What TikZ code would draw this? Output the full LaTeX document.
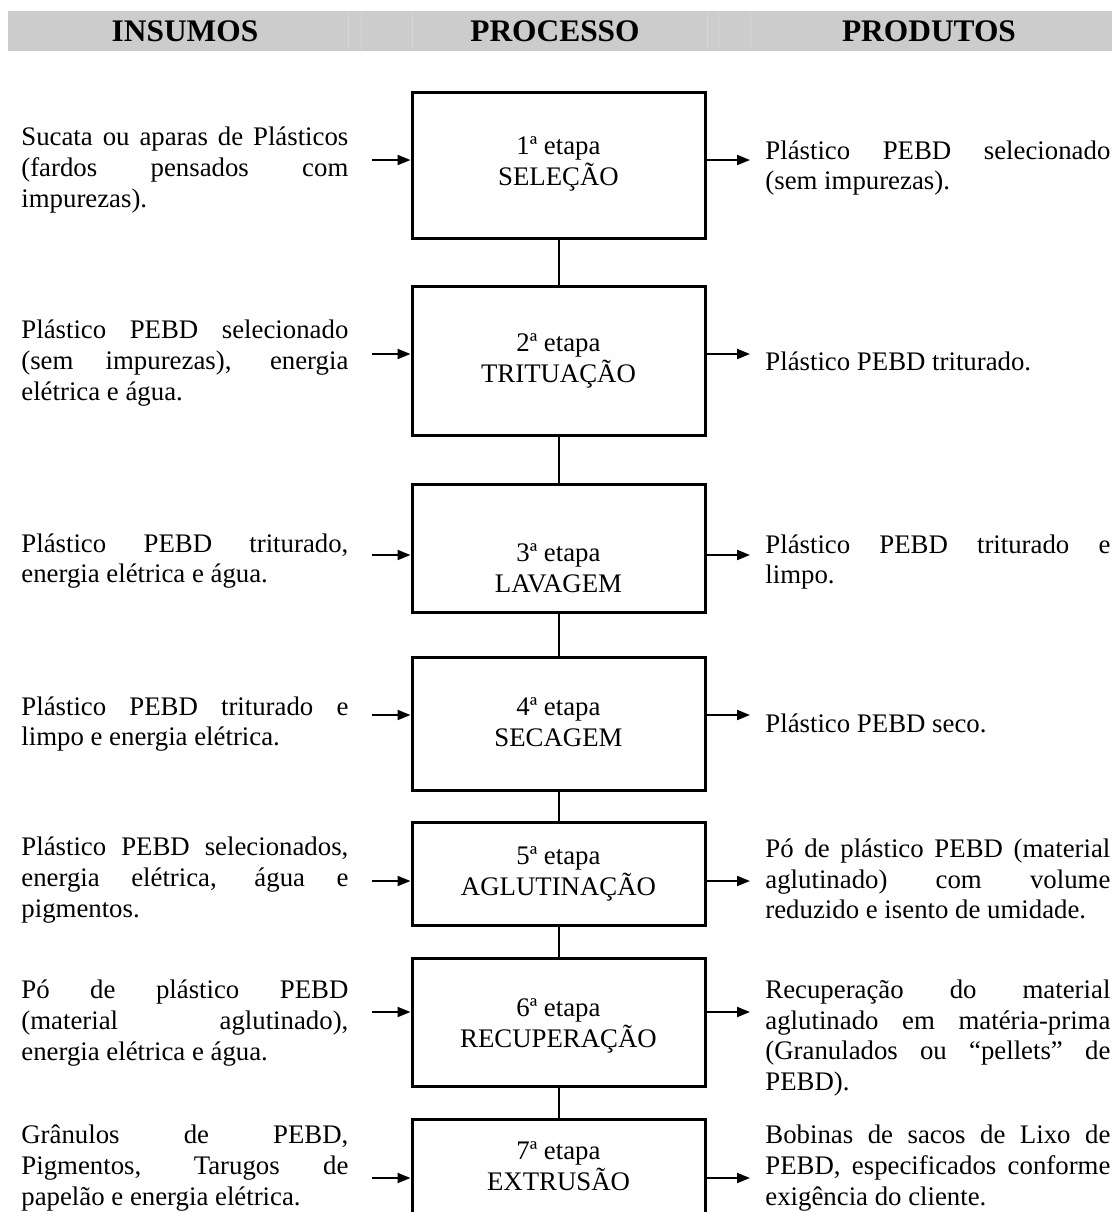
\documentclass[tikz,border=0pt]{standalone}
\usepackage{fontspec}
\setmainfont{Liberation Serif}
\usetikzlibrary{arrows.meta}
\hyphenpenalty=10000 \exhyphenpenalty=10000 \tolerance=10000 \hbadness=10000 \parindent=0pt
\definecolor{hdrgray}{RGB}{204,204,204}
\definecolor{hdrline}{RGB}{213,213,213}
\tikzset{
  bodyfont/.style={font=\fontsize{13.4pt}{15.3pt}\selectfont},
  hdrtext/.style={font=\fontsize{15.7pt}{18pt}\selectfont\bfseries, inner sep=0pt},
  intext/.style={bodyfont, text width=163.5pt, align=justify, inner sep=0pt, anchor=west},
  outtext/.style={bodyfont, text width=172.5pt, align=justify, inner sep=0pt, anchor=west},
  stagebox/.style={draw, line width=1.5pt, minimum width=146.5pt, inner sep=0pt},
  stagetext/.style={bodyfont, align=center, inner sep=0pt},
  link/.style={line width=1pt},
  flow/.style={line width=1pt, -{Triangle[length=6.5pt,width=5pt]}},
}
\begin{document}
\begin{tikzpicture}[x=0.5pt, y=-0.5pt]
\useasboundingbox (0,0) rectangle (1114,1212);
\clip (0,0) rectangle (1114,1212);
% header
\fill[hdrgray] (8,11) rectangle (1112,51);
\foreach \xx in {348,361,412,707,718,750}{\draw[hdrline, line width=0.3pt] (\xx,11) -- (\xx,51);}
\node[hdrtext] (h1) at (185,31) {INSUMOS};
\node[hdrtext] (h2) at (555,31) {PROCESSO};
\node[hdrtext] (h3) at (929,31) {PRODUTOS};
% stage boxes
\node[stagebox, minimum height=73pt]   (b1) at (558.5,165)   {};
\node[stagebox, minimum height=74.5pt] (b2) at (558.5,360.5) {};
\node[stagebox, minimum height=64pt]   (b3) at (558.5,548)   {};
\node[stagebox, minimum height=66.5pt] (b4) at (558.5,723.5) {};
\node[stagebox, minimum height=51.5pt] (b5) at (558.5,873.5) {};
\node[stagebox, minimum height=64pt]   (b6) at (558.5,1022)  {};
\node[stagebox, minimum height=51.5pt] (b7) at (558.5,1170.5){};
\node[stagetext] (t1) at (558.5,164)  {1ª etapa\\SELEÇÃO};
\node[stagetext] (t2) at (558.5,361)  {2ª etapa\\TRITUAÇÃO};
\node[stagetext] (t3) at (558.5,568)  {3ª etapa\\LAVAGEM};
\node[stagetext] (t4) at (558.5,722)  {4ª etapa\\SECAGEM};
\node[stagetext] (t5) at (558.5,874)  {5ª etapa\\AGLUTINAÇÃO};
\node[stagetext] (t6) at (558.5,1026) {6ª etapa\\RECUPERAÇÃO};
\node[stagetext] (t7) at (558.5,1166) {7ª etapa\\EXTRUSÃO};
\draw[link] (b1.south) -- (b2.north);
\draw[link] (b2.south) -- (b3.north);
\draw[link] (b3.south) -- (b4.north);
\draw[link] (b4.south) -- (b5.north);
\draw[link] (b5.south) -- (b6.north);
\draw[link] (b6.south) -- (b7.north);
% inputs
\node[intext] (l1) at (21,170) {Sucata ou aparas de Plásticos\linebreak (fardos pensados com\linebreak impurezas).};
\node[intext] (l2) at (21,363) {Plástico PEBD selecionado\linebreak (sem impurezas), energia\linebreak elétrica e água.};
\node[intext] (l3) at (21,561) {Plástico PEBD triturado,\linebreak energia elétrica e água.};
\node[intext] (l4) at (21,724) {Plástico PEBD triturado e\linebreak limpo e energia elétrica.};
\node[intext] (l5) at (21,880) {Plástico PEBD selecionados,\linebreak energia elétrica, água e\linebreak pigmentos.};
\node[intext] (l6) at (21,1023) {Pó de plástico PEBD\linebreak (material aglutinado),\linebreak energia elétrica e água.};
\node[intext] (l7) at (21,1168) {Grânulos de PEBD,\linebreak Pigmentos, Tarugos de\linebreak papelão e energia elétrica.};
% outputs
\node[outtext] (r1) at (765,168) {Plástico PEBD selecionado\linebreak (sem impurezas).};
\node[outtext] (r2) at (765,361) {Plástico PEBD triturado.};
\node[outtext] (r3) at (765,562) {Plástico PEBD triturado e\linebreak limpo.};
\node[outtext] (r4) at (765,723) {Plástico PEBD seco.};
\node[outtext] (r5) at (765,879) {Pó de plástico PEBD (material\linebreak aglutinado) com volume\linebreak reduzido e isento de umidade.};
\node[outtext] (r6) at (765,1038) {Recuperação do material\linebreak aglutinado em matéria-prima\linebreak (Granulados ou “pellets” de\linebreak PEBD).};
\node[outtext] (r7) at (765,1168) {Bobinas de sacos de Lixo de\linebreak PEBD, especificados conforme\linebreak exigência do cliente.};
% arrows
\foreach \i/\yy in {1/160,2/354,3/555,4/715,5/881,6/1012,7/1178}{
  \coordinate (in\i) at (372,\yy);
  \coordinate (out\i) at (750,\yy);
  \draw[flow] (in\i) -- (in\i -| b\i.west);
  \draw[flow] (out\i -| b\i.east) -- (out\i);
}
\end{tikzpicture}
\end{document}
